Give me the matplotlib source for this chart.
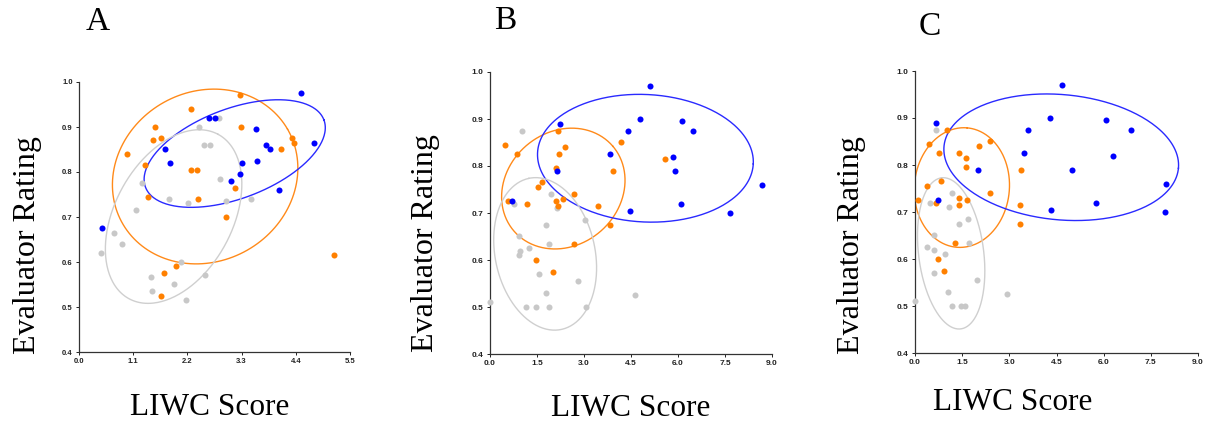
import numpy as np
import matplotlib
matplotlib.use("Agg")
from matplotlib import pyplot as plt

# 読み取った散布点 (LIWC score, evaluator rating)
A_BLUE = [(0.47, 0.675), (1.75, 0.85), (1.84, 0.82), (2.63, 0.92), (2.76, 0.92),
          (3.08, 0.78), (3.27, 0.795), (3.30, 0.82), (3.60, 0.895), (3.62, 0.825),
          (3.79, 0.86), (3.87, 0.85), (4.05, 0.76), (4.51, 0.975), (4.77, 0.865)]
A_ORANGE = [(0.97, 0.84), (1.54, 0.90), (1.51, 0.87), (1.67, 0.875), (1.34, 0.815),
            (1.41, 0.745), (2.27, 0.94), (2.28, 0.805), (2.39, 0.805), (2.41, 0.74),
            (3.27, 0.97), (3.29, 0.90), (3.16, 0.765), (2.98, 0.70), (4.33, 0.875),
            (4.36, 0.865), (4.10, 0.85), (5.18, 0.615), (1.96, 0.59), (1.73, 0.575),
            (1.67, 0.525)]
A_GRAY = [(0.45, 0.62), (0.72, 0.665), (0.88, 0.64), (1.16, 0.715), (1.27, 0.775),
          (1.83, 0.74), (2.21, 0.73), (2.43, 0.90), (2.53, 0.86), (2.66, 0.86),
          (2.85, 0.92), (2.86, 0.785), (2.98, 0.735), (3.50, 0.74), (2.07, 0.60),
          (1.46, 0.567), (1.48, 0.535), (1.92, 0.55), (2.17, 0.515), (2.56, 0.57)]

B_BLUE = [(0.69, 0.725), (2.23, 0.89), (2.15, 0.79), (3.84, 0.825), (4.40, 0.875),
          (4.80, 0.90), (5.12, 0.97), (4.48, 0.705), (5.83, 0.82), (5.90, 0.79),
          (6.13, 0.895), (6.49, 0.875), (6.10, 0.72), (7.67, 0.70), (8.69, 0.76)]
B_ORANGE = [(0.49, 0.845), (0.85, 0.825), (0.56, 0.725), (1.18, 0.72), (1.52, 0.755),
            (1.65, 0.765), (1.46, 0.60), (2.00, 0.575), (2.18, 0.875), (2.20, 0.825),
            (2.40, 0.84), (2.10, 0.795), (2.12, 0.725), (2.18, 0.715), (2.33, 0.73),
            (2.67, 0.74), (2.67, 0.635), (3.46, 0.715), (3.83, 0.675), (3.94, 0.79),
            (4.18, 0.85), (5.59, 0.815)]
B_GRAY = [(0.00, 0.51), (0.78, 0.72), (1.03, 0.875), (0.94, 0.65), (0.95, 0.62),
          (0.92, 0.61), (1.24, 0.625), (1.15, 0.50), (1.46, 0.50), (1.57, 0.57),
          (1.80, 0.53), (1.87, 0.50), (1.79, 0.675), (1.87, 0.635), (1.96, 0.74),
          (2.14, 0.71), (2.82, 0.555), (3.03, 0.685), (3.07, 0.50), (4.64, 0.525)]

C_BLUE = [(0.68, 0.89), (0.72, 0.725), (2.00, 0.79), (3.48, 0.825), (3.59, 0.875),
          (4.29, 0.90), (4.66, 0.97), (4.32, 0.705), (4.99, 0.79), (5.75, 0.72),
          (6.07, 0.895), (6.31, 0.82), (6.86, 0.875), (7.97, 0.76), (7.96, 0.70)]
C_ORANGE = [(0.11, 0.725), (0.43, 0.845), (0.39, 0.755), (0.68, 0.72), (0.77, 0.825),
            (0.84, 0.765), (1.01, 0.875), (0.73, 0.60), (0.91, 0.575), (1.28, 0.635),
            (1.40, 0.825), (1.61, 0.815), (1.61, 0.795), (1.41, 0.73), (1.41, 0.715),
            (1.66, 0.725), (2.04, 0.84), (2.39, 0.85), (2.37, 0.74), (3.36, 0.79),
            (3.33, 0.715), (3.33, 0.675)]
C_GRAY = [(0.00, 0.51), (0.66, 0.875), (0.49, 0.72), (0.37, 0.625), (0.60, 0.65),
          (0.60, 0.62), (0.60, 0.57), (0.94, 0.61), (1.04, 0.53), (1.17, 0.50),
          (1.08, 0.71), (1.19, 0.74), (1.40, 0.675), (1.68, 0.685), (1.72, 0.635),
          (1.46, 0.50), (1.59, 0.50), (1.96, 0.555), (2.91, 0.525)]

# 楕円: (中心x, 中心y, 半径a, 半径b [軸幅に対する割合], 角度deg)
A_ELLIPSES = {"orange": (2.56, 0.790, 0.351, 0.314, 30.0),
              "blue": (3.16, 0.841, 0.352, 0.166, 20.8),
              "gray": (1.92, 0.701, 0.346, 0.217, 61.7)}
B_ELLIPSES = {"orange": (2.34, 0.752, 0.231, 0.201, 40.5),
              "blue": (4.96, 0.8165, 0.383, 0.226, -3.0),
              "gray": (1.76, 0.613, 0.274, 0.177, 102.2)}
C_ELLIPSES = {"orange": (1.49, 0.752, 0.2125, 0.168, 85.0),
              "blue": (4.65, 0.8165, 0.416, 0.222, -5.4),
              "gray": (1.15, 0.612, 0.270, 0.115, 97.2)}

A_XTICKS = [0.0, 1.1, 2.2, 3.3, 4.4, 5.5]
BC_XTICKS = [0.0, 1.5, 3.0, 4.5, 6.0, 7.5, 9.0]
YTICKS = [0.4, 0.5, 0.6, 0.7, 0.8, 0.9, 1.0]

DOT_COLORS = {"blue": "#0000ff", "orange": "#ff8000", "gray": "#c8c8c8"}
LINE_COLORS = {"blue": "#2a2aff", "orange": "#ff8a1a", "gray": "#cfcfcf"}

SERIF = ["Liberation Serif", "DejaVu Serif"]
SANS = ["Liberation Sans", "DejaVu Sans"]


def draw_ellipse(ax, cx, cy, a, b, angle, color):
    """軸の割合で定義した楕円をデータ座標に変換して描く"""
    t = np.linspace(0, 2 * np.pi, 300)
    th = np.radians(angle)
    u = a * np.cos(t) * np.cos(th) - b * np.sin(t) * np.sin(th)
    v = a * np.cos(t) * np.sin(th) + b * np.sin(t) * np.cos(th)
    x0, x1 = ax.get_xlim()
    y0, y1 = ax.get_ylim()
    ax.plot(cx + u * (x1 - x0), cy + v * (y1 - y0), color=color, lw=1.0, zorder=2)


def draw_panel(ax, groups, ellipses, xticks, tick_size):
    ax.set_xlim(xticks[0], xticks[-1])
    ax.set_ylim(0.4, 1.0)
    for name in ["gray", "orange", "blue"]:
        pts = np.array(groups[name])
        ax.scatter(pts[:, 0], pts[:, 1], s=19, color=DOT_COLORS[name],
                   linewidths=0, zorder=3, clip_on=False)
    for name in ["orange", "blue", "gray"]:
        draw_ellipse(ax, *ellipses[name], LINE_COLORS[name])
    ax.set_xticks(xticks)
    ax.set_xticklabels([f"{v:.1f}" for v in xticks])
    ax.set_yticks(YTICKS)
    ax.set_yticklabels([f"{v:.1f}" for v in YTICKS])
    for lab in ax.get_xticklabels() + ax.get_yticklabels():
        lab.set_family(SANS)
        lab.set_fontweight("bold")
        lab.set_fontsize(tick_size)
    ax.tick_params(direction="out", length=2.5, width=0.7, pad=2, colors="#222222")
    ax.spines["top"].set_visible(False)
    ax.spines["right"].set_visible(False)
    for s in ["left", "bottom"]:
        ax.spines[s].set_linewidth(0.9)
        ax.spines[s].set_color("#333333")


fig = plt.figure(figsize=(12.09, 4.23), dpi=100)

ax_a = fig.add_axes([79 / 1209, 1 - 352 / 423, 271 / 1209, 270 / 423])
ax_b = fig.add_axes([490 / 1209, 1 - 354 / 423, 282 / 1209, 282 / 423])
ax_c = fig.add_axes([915 / 1209, 1 - 353 / 423, 283 / 1209, 282 / 423])

draw_panel(ax_a, {"blue": A_BLUE, "orange": A_ORANGE, "gray": A_GRAY},
           A_ELLIPSES, A_XTICKS, 5.5)
draw_panel(ax_b, {"blue": B_BLUE, "orange": B_ORANGE, "gray": B_GRAY},
           B_ELLIPSES, BC_XTICKS, 6)
draw_panel(ax_c, {"blue": C_BLUE, "orange": C_ORANGE, "gray": C_GRAY},
           C_ELLIPSES, BC_XTICKS, 6)

# パネル文字と軸ラベル (図のピクセル位置で配置)
labels = [("A", 98, 22, 28, 245, 210, 407),
          ("B", 505, 21, 426, 243, 631, 408),
          ("C", 930, 27, 851, 245, 1013, 402)]
for letter, lx, ly, yx, yy, xx, xy in labels:
    fig.text(lx / 1209, 1 - ly / 423, letter, family=SERIF, fontsize=24,
             ha="center", va="center")
    fig.text(yx / 1209, 1 - yy / 423, "Evaluator Rating", family=SERIF,
             fontsize=23, rotation=90, ha="center", va="center")
    fig.text(xx / 1209, 1 - xy / 423, "LIWC Score", family=SERIF,
             fontsize=22.5, ha="center", va="center")

fig.savefig("out.png", dpi=100)
plt.close(fig)
